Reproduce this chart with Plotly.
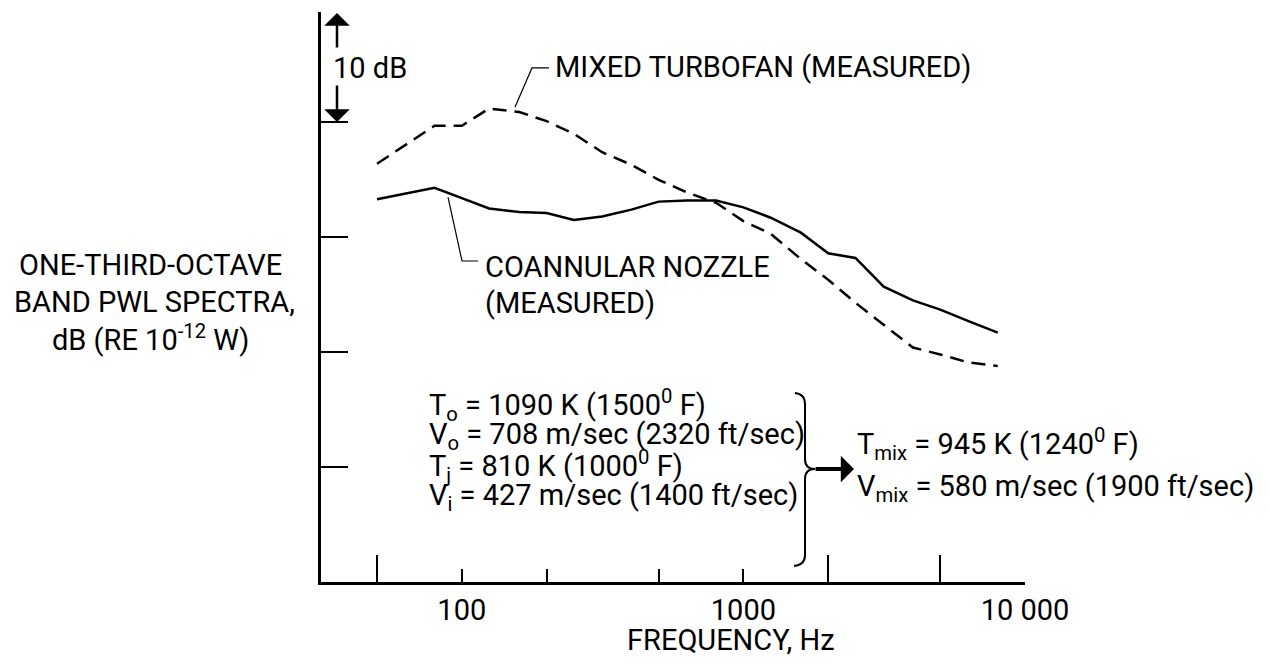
import plotly.graph_objects as go

# one-third-octave band centre frequencies, Hz
freq = [50, 63, 80, 100, 125, 160, 200, 250, 315, 400, 500, 630, 800,
        1000, 1250, 1600, 2000, 2500, 3150, 4000, 5000, 6300, 8000]

coannular = [33.3, 33.8, 34.3, 33.4, 32.5, 32.2, 32.1, 31.5, 31.8, 32.4, 33.1, 33.2, 33.2,
             32.6, 31.7, 30.4, 28.6, 28.2, 25.7, 24.5, 23.7, 22.7, 21.7]
mixed = [36.4, 38.0, 39.7, 39.7, 41.2, 40.9, 40.1, 39.0, 37.4, 36.3, 35.0, 33.9, 33.0,
         31.4, 30.3, 28.1, 26.3, 24.3, 22.4, 20.4, 19.8, 19.1, 18.8]

x_major = [100, 200, 500, 1000, 10000]
x_major_text = ['100', '', '', '1000', '10 000']
x_minor = [50, 2000, 5000, 10000]
y_ticks = [10, 20, 30, 40, 49.58]

FONT = "Roboto, 'Liberation Sans', sans-serif"
FS = 29
L, R, T, B = 321, 1025, 12, 582  # plot frame in pixels


def px(x):
    return (x - L) / (R - L)


def py(y):
    return (B - y) / (B - T)


def label(text, x, y, xanchor='left'):
    return dict(text=text, x=px(x), y=py(y), xref='paper', yref='paper',
                xanchor=xanchor, yanchor='middle', showarrow=False,
                font=dict(family=FONT, size=FS, color='black'))


def path(points):
    d = 'M ' + ' L '.join(f'{px(a):.4f},{py(b):.4f}' for a, b in points)
    return dict(type='path', xref='paper', yref='paper', path=d,
                line=dict(color='black', width=1.2))


fig = go.Figure()
fig.add_trace(go.Scatter(x=freq, y=coannular, mode='lines',
                         line=dict(color='black', width=2.5)))
fig.add_trace(go.Scatter(x=freq, y=mixed, mode='lines',
                         line=dict(color='black', width=2.5, dash='14px,8px')))

annotations = [
    label('10 dB', 331, 68),
    label('MIXED TURBOFAN (MEASURED)', 553, 67),
    label('COANNULAR NOZZLE', 483, 267),
    label('(MEASURED)', 483, 303),
    label('ONE-THIRD-OCTAVE', 150, 265, 'center'),
    label('BAND PWL SPECTRA,', 154, 302, 'center'),
    label('dB (RE 10<sup>-12</sup> W)', 150, 338, 'center'),
    label('T<sub>o</sub> = 1090 K (1500<sup>0</sup> F)', 427, 405),
    label('V<sub>o</sub> = 708 m/sec (2320 ft/sec)', 427, 436),
    label('T<sub>j</sub> = 810 K (1000<sup>0</sup> F)', 427, 466),
    label('V<sub>i</sub> = 427 m/sec (1400 ft/sec)', 427, 497),
    label('T<sub>mix</sub> = 945 K (1240<sup>0</sup> F)', 855, 444),
    label('V<sub>mix</sub> = 580 m/sec (1900 ft/sec)', 855, 488),
    label('FREQUENCY, Hz', 731, 640, 'center'),
]
# 10 dB arrows and the brace arrow
for hx, hy, dx, dy, w, s in [(337, 13, 0, 36, 2.5, 1.7), (337, 122, 0, -38, 2.5, 1.7),
                             (854, 469, -40, 0, 4, 1.1)]:
    annotations.append(dict(text='', x=px(hx), y=py(hy), xref='paper', yref='paper',
                            ax=dx, ay=dy, showarrow=True, arrowhead=1, arrowsize=s,
                            arrowwidth=w, arrowcolor='black'))

brace = dict(type='path', xref='paper', yref='paper', line=dict(color='black', width=2),
             path=(f'M {px(795):.4f},{py(393):.4f} Q {px(805):.4f},{py(394):.4f} {px(805):.4f},{py(404):.4f} '
                   f'L {px(805):.4f},{py(459):.4f} Q {px(805):.4f},{py(469):.4f} {px(815):.4f},{py(469):.4f} '
                   f'Q {px(805):.4f},{py(469):.4f} {px(805):.4f},{py(479):.4f} '
                   f'L {px(805):.4f},{py(555):.4f} Q {px(805):.4f},{py(565):.4f} {px(794):.4f},{py(566):.4f}'))

fig.update_layout(
    width=1270, height=662,
    margin=dict(l=L, r=1270 - R, t=T, b=662 - B),
    plot_bgcolor='white', paper_bgcolor='white', showlegend=False,
    font=dict(family=FONT, size=FS, color='black'),
    annotations=annotations,
    shapes=[path([(515, 107), (532, 68), (549, 68)]),
            path([(448, 197), (462, 261), (478, 261)]),
            brace],
    xaxis=dict(type='log', range=[1.5, 4], showline=True, linecolor='black', linewidth=2.5,
               ticks='inside', ticklen=13, tickwidth=2, tickcolor='black',
               tickmode='array', tickvals=x_major, ticktext=x_major_text,
               minor=dict(tickmode='array', tickvals=x_minor, ticks='inside', ticklen=27,
                          tickwidth=2, tickcolor='black', showgrid=False),
               tickfont=dict(family=FONT, size=FS), ticklabelstandoff=0,
               showgrid=False, zeroline=False, automargin=False),
    yaxis=dict(range=[0, 49.6], showline=True, linecolor='black', linewidth=2.5,
               ticks='inside', ticklen=27, tickwidth=2, tickcolor='black',
               tickmode='array', tickvals=y_ticks, showticklabels=False,
               showgrid=False, zeroline=False, automargin=False),
)

# drop the default page margin so the figure sits at the window's corner
fig.write_html("out.html", config={'displayModeBar': False},
               post_script="document.body.style.margin='0';")
